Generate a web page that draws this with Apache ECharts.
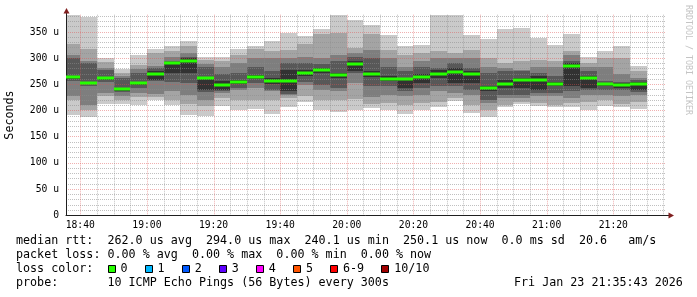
<!DOCTYPE html>
<html><head><meta charset="utf-8">
<script src="https://cdn.jsdelivr.net/npm/echarts@6/dist/echarts.min.js"></script>
<style>html,body{margin:0;padding:0;background:#fff}#c{width:697px;height:297px}</style>
</head><body><div id="c"></div>
<script>
// ---- data ----
const firstBin = '18:35';          // start of first 5-minute bin
const binMinutes = 5;
const windowStart = '18:35:43';
const windowEnd = '21:35:43';
const xTickLabels = ['18:40','19:00','19:20','19:40','20:00','20:20','20:40','21:00','21:20'];
const yTickValues = [0,50,100,150,200,250,300,350];
const yTickLabels = ['0','50 u','100 u','150 u','200 u','250 u','300 u','350 u'];
// median rtt per bin (microseconds)
const medians = [264,253,261.5,240.5,252,270,290,295,263,248.7,254.4,264.6,256,257,271,277,267,288.5,269,259.5,261,263.4,269,274.5,270.3,242.8,250.6,258,258.6,251,285.3,262.4,250,248.7,250.6];
// 10 sorted pings per bin (microseconds)
const pings = [
 [191,221,228,256,260,266,300,306,328,383],
 [187,201,210,246,250,255,291,294,317,379],
 [213,227,234,255,259,263,277,281,292,301],
 [212,221,228,235,238,243,263,266,272,280],
 [210,226,233,243,249,254,272,279,287,306],
 [220,225,231,256,259,276,281,285,309,318],
 [210,220,238,255,271,291,294,302,313,323],
 [192,213,230,252,271,300,302,310,323,333],
 [190,209,220,236,240,265,284,289,296,303],
 [209,224,234,238,240,256,269,284,295,302],
 [201,221,240,244,250,259,272,291,306,317],
 [203,221,244,252,261,268,284,300,318,323],
 [193,221,237,240,251,262,276,300,314,333],
 [207,224,229,232,237,278,291,300,316,349],
 [217,227,249,254,266,278,291,303,327,343],
 [201,221,240,249,272,282,288,300,347,356],
 [198,221,237,243,262,272,294,307,348,383],
 [201,222,252,271,275,295,303,310,319,373],
 [204,212,226,246,265,276,300,316,347,363],
 [201,214,229,246,256,266,284,300,316,344],
 [193,211,227,237,243,262,275,284,307,323],
 [201,214,230,243,252,270,284,294,310,326],
 [207,217,237,246,262,278,281,300,313,383],
 [219,224,233,246,253,281,291,300,310,383],
 [196,211,229,240,252,275,281,300,316,344],
 [188,201,214,221,238,246,272,284,300,337],
 [206,211,224,229,243,259,275,281,291,356],
 [213,216,224,229,243,262,275,278,294,357],
 [209,214,227,233,240,266,272,284,297,339],
 [207,211,227,233,246,254,266,284,294,325],
 [206,214,224,237,246,291,294,307,313,346],
 [201,217,229,240,243,266,275,284,291,303],
 [209,221,229,240,246,253,256,284,300,314],
 [207,212,227,240,244,252,254,270,300,323],
 [203,217,229,236,240,254,259,262,275,286]
];
const lossLabels = ['0','1','2','3','4','5','6-9','10/10'];
const lossColors = ['#26ff00','#00b8ff','#0059ff','#5e00ff','#ff00ff','#ff5500','#ff0000','#a00000'];
const legendRows = [
 'median rtt:  262.0 us avg  294.0 us max  240.1 us min  250.1 us now  0.0 ms sd  20.6   am/s',
 'packet loss: 0.00 % avg  0.00 % max  0.00 % min  0.00 % now',
 'loss color:',
 'probe:       10 ICMP Echo Pings (56 Bytes) every 300s'
];
const dateText = 'Fri Jan 23 21:35:43 2026';

// ---- helpers ----
function toMin(s){const p=s.split(':').map(Number);return p[0]*60+p[1]+(p[2]||0)/60;}
const xMin = toMin(windowStart), xMax = toMin(windowEnd);
const t0 = toMin(firstBin);
const xTickValues = xTickLabels.map(toMin);
const smokeData = pings.map((p,i)=>[t0+i*binMinutes, t0+(i+1)*binMinutes].concat(p));
const medianData = medians.map((m,i)=>[t0+i*binMinutes, t0+(i+1)*binMinutes, m]);
const shades = ['#cacaca','#a4a4a4','#7e7e7e','#585858','#323232'];
const MONO = 'DejaVu Sans Mono';
const GRID_MINOR = 'rgba(140,140,140,0.55)';
const GRID_MAJOR = 'rgba(222,79,79,0.45)';

const G = {left:66, top:14.7, width:599.7, height:200.6};

// vertical grid line positions every 5 minutes (major every 20)
const vGrid = [];
for (let m = Math.ceil(xMin/5)*5; m < xMax; m += 5) {
  const major = ((m - xTickValues[0]) % 20 + 20) % 20 === 0 ? 1 : 0;
  vGrid.push([m, major]);
}

function clampRect(a,b,cs){
  let x0=Math.round(Math.max(a[0],cs.x)), x1=Math.round(Math.min(b[0],cs.x+cs.width));
  let y0=Math.round(Math.max(a[1],cs.y)), y1=Math.round(Math.min(b[1],cs.y+cs.height));
  return {x:x0,y:y0,width:Math.max(0,x1-x0),height:Math.max(0,y1-y0)};
}

const chart = echarts.init(document.getElementById('c'), null, {renderer:'canvas'});

const CW = 7.08;
const FONT = '11.7px "'+MONO+'"';
const graphics = [];
const rowY = [240.5,255,269,283.3];
legendRows.forEach((t,i)=>graphics.push({type:'text', x:16, y:rowY[i],
  style:{text:t, font:FONT, fill:'#000', textVerticalAlign:'middle', textAlign:'left'}}));
graphics.push({type:'text', x:514, y:rowY[3], style:{text:dateText, font:FONT, fill:'#000', textVerticalAlign:'middle'}});
let bx = 16 + 13*CW - 0.5;
lossLabels.forEach((l,i)=>{
  graphics.push({type:'rect', shape:{x:Math.round(bx)+0.5, y:265.5, width:7, height:7}, style:{fill:lossColors[i], stroke:'#000', lineWidth:1}});
  graphics.push({type:'text', x:bx+13, y:rowY[2], style:{text:l, font:FONT, fill:'#000', textVerticalAlign:'middle'}});
  bx = bx + 13 + l.length*CW + 17;
});
// axis arrows + extensions
const gx0 = G.left, gy1 = Math.round(G.top + G.height)+0.5, gx1 = G.left + G.width;
graphics.push({type:'line', z:10, shape:{x1:gx1, y1:gy1, x2:669, y2:gy1}, style:{stroke:'#1f1f1f', lineWidth:1}});
graphics.push({type:'polygon', z:10, shape:{points:[[674,gy1],[668.5,gy1-3],[668.5,gy1+3]]}, style:{fill:'#801f1f'}});
graphics.push({type:'line', z:10, shape:{x1:gx0+0.5, y1:G.top+1, x2:gx0+0.5, y2:12}, style:{stroke:'#1f1f1f', lineWidth:1}});
graphics.push({type:'polygon', z:10, shape:{points:[[gx0+0.5,8],[gx0-2.5,13.5],[gx0+3.5,13.5]]}, style:{fill:'#801f1f'}});
// watermark
graphics.push({type:'text', x:688, y:5, rotation:-Math.PI/2, style:{text:'RRDTOOL / TOBI OETIKER', font:'8.3px "'+MONO+'"', fill:'#c4c4c4', textVerticalAlign:'middle', textAlign:'left'}});

chart.setOption({
  animation:false,
  backgroundColor:'#fff',
  grid:{left:G.left, top:G.top, width:G.width, height:G.height, outerBoundsMode:'none', containLabel:false},
  xAxis:{type:'value', min:xMin, max:xMax, z:4,
    axisLine:{show:true, lineStyle:{color:'#1f1f1f', width:1}},
    axisTick:{show:false},
    splitLine:{show:false},
    axisLabel:{customValues: xTickValues, margin:5, color:'#000', fontFamily:MONO, fontSize:9.7,
      formatter:(v)=>{const i=xTickValues.findIndex(t=>Math.abs(t-v)<1e-6);return i>=0?xTickLabels[i]:'';}}
  },
  yAxis:{type:'value', min:0, max:383, interval:10, z:2,
    name:'Seconds', nameLocation:'middle', nameRotate:90, nameGap:50,
    nameTextStyle:{fontFamily:MONO, fontSize:11.7, color:'#000'},
    axisLine:{show:true, lineStyle:{color:'#1f1f1f', width:1}},
    axisTick:{show:false},
    axisLabel:{margin:7, color:'#000', fontFamily:MONO, fontSize:9.7, showMaxLabel:false,
      formatter:(v)=>{const i=yTickValues.indexOf(v);return i>=0?yTickLabels[i]:'';}},
    splitLine:{show:true, showMaxLine:false, lineStyle:{color:[GRID_MAJOR,GRID_MINOR,GRID_MINOR,GRID_MINOR,GRID_MINOR], type:[1,1], width:1}}
  },
  graphic:graphics,
  series:[
    {type:'custom', z:1, silent:true, data:smokeData,
     renderItem:(params, api)=>{
       const cs = params.coordSys; const children=[];
       const xa=api.value(0), xb=api.value(1);
       for(let b=0;b<5;b++){
         const lo=api.value(2+b), hi=api.value(11-b);
         children.push({type:'rect', shape:clampRect(api.coord([xa,hi]), api.coord([xb,lo]), cs), style:{fill:shades[b]}});
       }
       return {type:'group', children};
     }},
    {type:'custom', z:2, silent:true, data:vGrid,
     renderItem:(params, api)=>{
       const cs = params.coordSys;
       const x = Math.round(api.coord([api.value(0), 0])[0]) + 0.5;
       return {type:'line', shape:{x1:x, y1:cs.y, x2:x, y2:cs.y+cs.height},
         style:{stroke: api.value(1) ? GRID_MAJOR : GRID_MINOR, lineWidth:1, lineDash:[1,1]}};
     }},
    {type:'custom', z:3, silent:true, data:medianData,
     renderItem:(params, api)=>{
       const cs = params.coordSys;
       const a = api.coord([api.value(0), api.value(2)]), b = api.coord([api.value(1), api.value(2)]);
       const x0=Math.round(Math.max(a[0],cs.x)), x1=Math.round(Math.min(b[0],cs.x+cs.width));
       const yc=Math.round(a[1]);
       return {type:'rect', shape:{x:x0, y:yc-1.5, width:x1-x0, height:3}, style:{fill:'#26ff00'}};
     }}
  ]
});
</script></body></html>
